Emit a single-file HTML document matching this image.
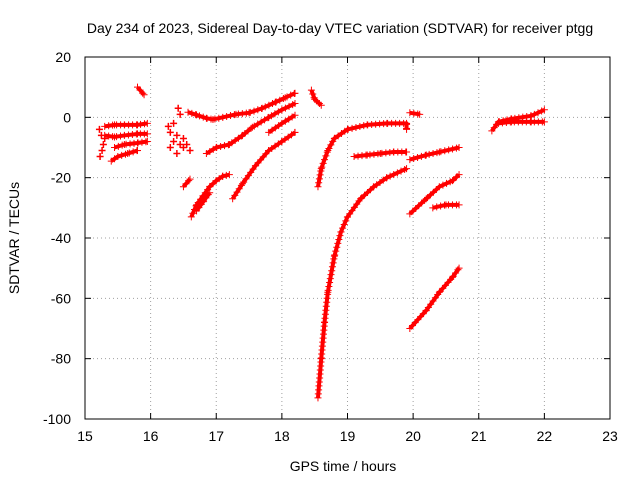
<!DOCTYPE html>
<html><head><meta charset="utf-8"><style>
body{margin:0;background:#fff;}
svg{display:block;font-family:"Liberation Sans",Arial,sans-serif;}
</style></head><body>
<svg id="chart" width="640" height="480" viewBox="0 0 640 480">
<rect x="0" y="0" width="640" height="480" fill="#fff"/>
<text x="340" y="33" font-size="14" text-anchor="middle">Day 234 of 2023, Sidereal Day-to-day VTEC variation (SDTVAR) for receiver ptgg</text>
<g id="grid"></g>
<g id="axes"></g>
<g id="series"></g>
<rect x="85" y="57" width="525" height="362" fill="none" stroke="#000" stroke-width="1"/>
<text x="343" y="471" font-size="14" text-anchor="middle">GPS time / hours</text>
<text x="19" y="238" font-size="14" text-anchor="middle" transform="rotate(-90 19 238)">SDTVAR / TECUs</text>
</svg>
<script>
const xTicks=[15,16,17,18,19,20,21,22,23];
const yTicks=[20,0,-20,-40,-60,-80,-100];
const segA_x=[15.3,15.45,15.6,15.8,15.95], segA_y=[-3,-2.5,-2.5,-2.5,-2];
const segB_x=[15.3,15.45,15.6,15.8,15.95], segB_y=[-6,-6.5,-6,-5.5,-5.5];
const segC_x=[15.45,15.6,15.8,15.95], segC_y=[-10,-9,-8.5,-8];
const segD_x=[15.4,15.5,15.65,15.8], segD_y=[-14.5,-13,-12,-11];
const segE_x=[15.8,15.9], segE_y=[10,7.5];
const scatF_x=[15.22,15.25,15.28,15.23,15.3,15.26,16.27,16.3,16.35,16.4,16.45,16.5,16.55,16.3,16.4,16.5,16.42,16.45,16.35,16.6], scatF_y=[-4,-6,-9,-13,-7,-11,-3,-5,-8,-6,-9,-10,-9,-10,-12,-7,3,1,-2,-11];
const segG_x=[16.5,16.6], segG_y=[-23,-20.5];
const segH_x=[16.62,16.7,16.8,16.9,17.0,17.1,17.2], segH_y=[-33,-29,-26,-23,-21,-19.5,-19];
const segH2_x=[16.7,16.8,16.9], segH2_y=[-31,-28,-25];
const segI_x=[16.57,16.7,16.85,16.95,17.1,17.3,17.5,17.7,17.9,18.05,18.2], segI_y=[1.7,0.8,-0.3,-0.7,0,1,1.5,3,5,6.5,8];
const segJ_x=[16.85,17.0,17.2,17.4,17.55,17.8,18.0,18.2], segJ_y=[-12,-10,-9,-6,-3.3,0,2.5,4.6];
const segJ2_x=[17.8,18.0,18.2], segJ2_y=[-5,-2,0.7];
const segK_x=[17.25,17.4,17.6,17.8,18.0,18.2], segK_y=[-27,-22,-16,-11,-8,-5];
const segL_x=[18.45,18.5,18.6], segL_y=[9,6,4];
const segM_x=[18.55,18.6,18.7,18.8,19.0,19.3,19.6,19.9,19.9], segM_y=[-23,-17,-11,-7,-4,-2.5,-2,-2,-4];
const segN_x=[18.55,18.6,18.65,18.7,18.8,18.9,19.0,19.2,19.4,19.6,19.9], segN_y=[-93,-80,-68,-58,-46,-38,-33,-27,-23,-20,-17];
const segO_x=[19.1,19.3,19.5,19.7,19.9], segO_y=[-13,-12.5,-12,-11.5,-11.5];
const segP_x=[19.95,20.1], segP_y=[1.5,1];
const segQ_x=[19.95,20.2,20.4,20.7], segQ_y=[-14,-12.5,-11.5,-10];
const segR_x=[19.95,20.2,20.4,20.6,20.7], segR_y=[-32,-27,-23,-21,-19];
const segS_x=[20.3,20.5,20.7], segS_y=[-30,-29,-29];
const segT_x=[19.95,20.2,20.4,20.6,20.7], segT_y=[-70,-64,-58,-53,-50];
const segU_x=[21.2,21.3,21.5,21.8,22.0], segU_y=[-4.5,-1.5,-0.5,0.5,2.5];
const segU2_x=[21.3,21.5,21.8,22.0], segU2_y=[-2,-1.5,-1.5,-1.5];

const NS='http://www.w3.org/2000/svg';
const X=v=>85+(v-15)*(525/8);
const Y=v=>57+(20-v)*(362/120);
function mk(tag,attrs,parent){const e=document.createElementNS(NS,tag);for(const k in attrs)e.setAttribute(k,attrs[k]);parent.appendChild(e);return e;}
const grid=document.getElementById('grid'),axes=document.getElementById('axes'),ser=document.getElementById('series');
xTicks.forEach(t=>{
  const x=X(t);
  if(t>15&&t<23){const l=mk('line',{x1:x,y1:57,x2:x,y2:419,stroke:'#a0a0a0','stroke-dasharray':'1,3'},grid);
  
  }
  mk('line',{x1:x,y1:419,x2:x,y2:413,stroke:'#000'},axes);
  mk('line',{x1:x,y1:57,x2:x,y2:63,stroke:'#000'},axes);
  const tx=mk('text',{x:x,y:441,'font-size':14,'text-anchor':'middle'},axes);tx.textContent=t;
  
  
});
yTicks.forEach(t=>{
  const y=Y(t);
  if(t<20&&t>-100){const l=mk('line',{x1:85,y1:y,x2:610,y2:y,stroke:'#a0a0a0','stroke-dasharray':'1,3'},grid);
  
  }
  mk('line',{x1:85,y1:y,x2:91,y2:y,stroke:'#000'},axes);
  mk('line',{x1:610,y1:y,x2:604,y2:y,stroke:'#000'},axes);
  const tx=mk('text',{x:71,y:y+5,'font-size':14,'text-anchor':'end'},axes);tx.textContent=t;
  
  
});
const segs=[[segA_x,segA_y],[segB_x,segB_y],[segC_x,segC_y],[segD_x,segD_y],[segE_x,segE_y],[segG_x,segG_y],[segH_x,segH_y],[segH2_x,segH2_y],[segI_x,segI_y],[segJ_x,segJ_y],[segJ2_x,segJ2_y],[segK_x,segK_y],[segL_x,segL_y],[segM_x,segM_y],[segN_x,segN_y],[segO_x,segO_y],[segP_x,segP_y],[segQ_x,segQ_y],[segR_x,segR_y],[segS_x,segS_y],[segT_x,segT_y],[segU_x,segU_y],[segU2_x,segU2_y]];
segs.forEach(([xs,ys])=>{
  const pts=xs.map((v,i)=>X(v)+','+Y(ys[i])).join(' ');
  const pl=mk('polyline',{points:pts,fill:'none',stroke:'#ff0000','stroke-width':4,'stroke-linejoin':'round'},ser);
  
  
  const L=pl.getTotalLength();
  let d='';
  for(let s=0;s<=L;s+=4){const p=pl.getPointAtLength(s);d+=`M${p.x-3.5},${p.y}h7M${p.x},${p.y-3.5}v7`;}
  xs.forEach((v,i)=>{const px=X(v),py=Y(ys[i]);d+=`M${px-3.5},${py}h7M${px},${py-3.5}v7`;});
  const m=mk('path',{d:d,stroke:'#ff0000','stroke-width':1,fill:'none'},ser);
  
  
});
let sd='';
scatF_x.forEach((v,i)=>{const px=X(v),py=Y(scatF_y[i]);sd+=`M${px-3.5},${py}h7M${px},${py-3.5}v7`;});
const sm=mk('path',{d:sd,stroke:'#ff0000','stroke-width':1.5,fill:'none'},ser);


</script>
</body></html>
